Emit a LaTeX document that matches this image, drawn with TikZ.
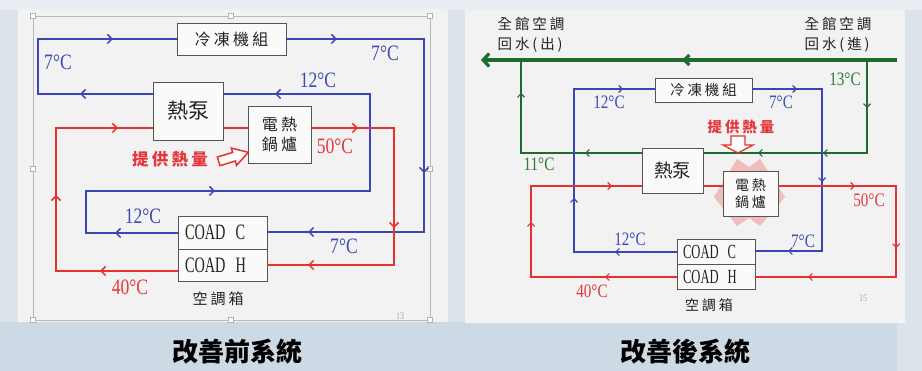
\documentclass[tikz,border=0pt]{standalone}
\usepackage{fontspec}
\usepackage{graphicx}
\setmainfont{Liberation Serif}
\newfontfamily\cjk{Noto Sans CJK TC}
\newfontfamily\cjksp[LetterSpace=20]{Noto Sans CJK TC}
\usetikzlibrary{arrows.meta,decorations.markings}
\definecolor{bl}{HTML}{3B46B2}
\definecolor{rd}{HTML}{E6312F}
\definecolor{gn}{HTML}{1F6A2F}
\definecolor{blt}{HTML}{3C4CB4}
\definecolor{rdt}{HTML}{E5373B}
\definecolor{gnt}{HTML}{2C7A3A}
\definecolor{bgc}{HTML}{DCE3EA}
\definecolor{bandc}{HTML}{CDD9E4}
\definecolor{slidec}{HTML}{F2F2F2}
\definecolor{boxc}{HTML}{555555}
\definecolor{pinkc}{HTML}{F1BCBC}
\definecolor{txt}{HTML}{222222}
\newcommand{\tmp}[2]{{\fontsize{#1}{#1}\selectfont\scalebox{0.8}[1]{#2°C}}}
\newcommand{\coad}[3]{{\fontsize{#1}{#1}\selectfont\scalebox{#2}[1]{COAD\hspace{0.7em}#3}}}
\newcommand{\cj}[2]{{\cjksp\fontsize{#1}{#1}\selectfont #2}}
\tikzset{
  am/.style={postaction={decorate,decoration={markings,mark=at position #1 with {\arrow{Straight Barb[length=4.5pt,width=9pt]}}}}},
  amr/.style={postaction={decorate,decoration={markings,mark=at position #1 with {\arrow{Straight Barb[length=3.5pt,width=7pt]}}}}},
  amg/.style={postaction={decorate,decoration={markings,mark=at position #1 with {\arrow{Straight Barb[length=5pt,width=10pt]}}}}},
  bll/.style={bl, line width=1.5pt},
  rdl/.style={rd, line width=1.5pt},
  blr/.style={bl, line width=1.1pt},
  rdr/.style={rd, line width=1.1pt},
  gnl/.style={gn, line width=1.1pt},
  box/.style={draw=boxc, fill=white!60!slidec, line width=0.8pt, inner sep=0pt, outer sep=0pt, text=txt},
  lbl/.style={inner sep=0pt, text=txt}
}
\begin{document}
\begin{tikzpicture}[x=1pt,y=-1pt]
\useasboundingbox (0,0) rectangle (922,371);
% background
\fill[bgc] (0,0) rectangle (922,371);
\fill[white!40!bgc] (0,0) rectangle (922,10);
\fill[bandc] (0,322) rectangle (897,371);
\fill[slidec] (18,9) rectangle (448,322);
\fill[slidec] (465,10) rectangle (905,320);
\fill[white!70!bandc] (465,320) rectangle (905,323);
% selection frame (left slide)
\draw[gray!55, line width=0.6pt] (33,16) rectangle (430,320);
\foreach \p in {(33,16),(231,16),(430,16),(33,169),(430,169),(33,320),(231,320),(430,320)}
  \draw[gray!60, fill=white, line width=0.5pt] \p ++(-2.5,-2.5) rectangle ++(5,5);

% ================= LEFT PANEL =================
\node[box, minimum width=109pt, minimum height=32pt] (chillerL) at (231.5,39) {\cj{16}{冷凍機組}};
\node[box, minimum width=70pt, minimum height=58pt] (hpL) at (188,111) {{\cjk\fontsize{21}{21}\selectfont 熱泵}};
\node[box, minimum width=63pt, minimum height=57pt, align=center] (boilL) at (279.5,134.5) {\cj{16}{電熱}\\[4pt]\cj{16}{鍋爐}};
\node[box, minimum width=89pt, minimum height=33pt, inner xsep=7pt, text width=75pt, align=left] (coadcL) at (222.5,232.5) {\coad{22}{0.65}{C}};
\node[box, minimum width=89pt, minimum height=32pt, inner xsep=7pt, text width=75pt, align=left] (coadhL) at (222.5,265) {\coad{22}{0.65}{H}};

\coordinate (a1) at (38,94); \coordinate (a2) at (38,39);
\draw[bll, am=73pt, am=245pt] (hpL.west |- a1) -- (a1) -- (a2) -- (chillerL.west);
\coordinate (b1) at (424,39); \coordinate (b2) at (424,232);
\draw[bll, am=51pt, am=272pt, am=447pt] (chillerL.east) -- (b1) -- (b2) -- (coadcL.east |- b2);
\coordinate (c1) at (86,233); \coordinate (c2) at (86,191); \coordinate (c3) at (370,191); \coordinate (c4) at (370,94);
\draw[bll, am=63pt, am=263pt, am=610pt] (coadcL.west |- c1) -- (c1) -- (c2) -- (c3) -- (c4) -- (hpL.east |- c4);
\coordinate (d1) at (394,128); \coordinate (d2) at (394,265);
\draw[rdl] (hpL.east |- d1) -- (boilL.west |- d1);
\draw[rdl, am=47pt, am=183pt, am=306pt] (boilL.east |- d1) -- (d1) -- (d2) -- (coadhL.east |- d2);
\coordinate (e1) at (56,271); \coordinate (e2) at (56,128);
\draw[rdl, am=78pt, am=198pt, am=327pt] (coadhL.west |- e1) -- (e1) -- (e2) -- (hpL.west |- e2);

\node[lbl, text=blt] (tl1) at (58,62) {\tmp{22}{7}};
\node[lbl, text=blt] (tl2) at (385,53) {\tmp{22}{7}};
\node[lbl, text=blt] (tl3) at (318,80) {\tmp{22}{12}};
\node[lbl, text=blt] (tl4) at (143,216) {\tmp{22}{12}};
\node[lbl, text=blt] (tl5) at (344,246) {\tmp{22}{7}};
\node[lbl, text=rdt] (tl6) at (335,146) {\tmp{22}{50}};
\node[lbl, text=rdt] (tl7) at (130,287) {\tmp{22}{40}};
\node[lbl, text=rdt] (heatL) at (170,159) {\cj{16.5}{\bfseries 提供熱量}};
\node[lbl] (ahuL) at (218,299) {\cj{15}{空調箱}};
\node[lbl, text=gray!70] (pg13) at (400,316) {\scalebox{0.8}[1]{\fontsize{10}{10}\selectfont 13}};
\draw[rd, fill=white, line width=1.5pt, line join=miter, shift={(233,157)}, rotate=17]
  (-15,-4.5) -- (1,-4.5) -- (1,-9) -- (16,0) -- (1,9) -- (1,4.5) -- (-15,4.5) -- cycle;

% ================= RIGHT PANEL =================
\fill[pinkc] (714,197) -- (737,159) -- (749,167) -- (760,159) -- (785,197) -- (760,226) -- (749,218) -- (737,226) -- cycle;
\node[box, minimum width=97pt, minimum height=24pt] (chillerR) at (703.5,90) {\cj{14.5}{冷凍機組}};
\node[box, minimum width=61pt, minimum height=45pt] (hpR) at (672.5,170.5) {{\cjk\fontsize{18.5}{18.5}\selectfont 熱泵}};
\node[box, minimum width=55pt, minimum height=45pt, align=center] (boilR) at (750.5,193.5) {\cj{14}{電熱}\\[3pt]\cj{14}{鍋爐}};
\node[box, minimum width=78pt, minimum height=25pt, inner xsep=6pt, text width=66pt, align=left] (coadcR) at (716,251.5) {\coad{20}{0.63}{C}};
\node[box, minimum width=78pt, minimum height=25pt, inner xsep=6pt, text width=66pt, align=left] (coadhR) at (716,276.5) {\coad{20}{0.63}{H}};

\coordinate (gin) at (897,60); \coordinate (gout) at (481,60);
\draw[gn, line width=3.2pt, -{Straight Barb[length=6pt,width=13pt]}, amg=215pt] (gin) -- (gout);
\coordinate (f0) at (867,60); \coordinate (f1) at (867,153);
\draw[gnl, amr=48pt, amr=137pt, amr=202pt] (f0) -- (f1) -- (hpR.east |- f1);
\coordinate (h1) at (521,153); \coordinate (h2) at (521,60);
\draw[gnl, amr=57pt, amr=181pt] (hpR.west |- h1) -- (h1) -- (h2);

\coordinate (i1) at (574,252); \coordinate (i2) at (574,89);
\draw[blr, amr=62pt, amr=157pt, amr=315pt] (coadcR.west |- i1) -- (i1) -- (i2) -- (chillerR.west |- i2);
\coordinate (j1) at (822,89); \coordinate (j2) at (822,251);
\draw[blr, amr=45pt, amr=163pt, amr=266pt] (chillerR.east |- j1) -- (j1) -- (j2) -- (coadcR.east |- j2);

\coordinate (k1) at (896,186); \coordinate (k2) at (896,277);
\draw[rdr] (hpR.east |- k1) -- (boilR.west |- k1);
\draw[rdr, amr=77pt, amr=180pt, amr=297pt] (boilR.east |- k1) -- (k1) -- (k2) -- (coadhR.east |- k2);
\coordinate (m1) at (531,277); \coordinate (m2) at (531,186);
\draw[rdr, amr=72pt, amr=201pt, amr=318pt] (coadhR.west |- m1) -- (m1) -- (m2) -- (hpR.west |- m2);

\node[lbl, align=left] (outL) at (531,35) {\cj{14.5}{全館空調}\\[6pt]\cj{14.5}{回水(出)}};
\node[lbl, align=left] (inR) at (838,35) {\cj{14.5}{全館空調}\\[6pt]\cj{14.5}{回水(進)}};
\node[lbl, text=gnt] (tr1) at (845,79) {\tmp{19}{13}};
\node[lbl, text=gnt] (tr2) at (539,164) {\tmp{19}{11}};
\node[lbl, text=blt] (tr3) at (609,102) {\tmp{19}{12}};
\node[lbl, text=blt] (tr4) at (781,102) {\tmp{19}{7}};
\node[lbl, text=blt] (tr5) at (630,239) {\tmp{19}{12}};
\node[lbl, text=blt] (tr6) at (803,241) {\tmp{19}{7}};
\node[lbl, text=rdt] (tr7) at (869,200) {\tmp{19}{50}};
\node[lbl, text=rdt] (tr8) at (592,291) {\tmp{19}{40}};
\node[lbl, text=rdt] (heatR) at (741,127) {\cj{14.5}{\bfseries 提供熱量}};
\node[lbl] (ahuR) at (709,305) {\cj{14}{空調箱}};
\node[lbl, text=gray!70] (pg15) at (863,298) {\scalebox{0.8}[1]{\fontsize{10}{10}\selectfont 15}};
\draw[rd, fill=white, line width=1.3pt, line join=miter]
  (731,136) -- (745,136) -- (745,145) -- (753,145) -- (738,153) -- (723,145) -- (731,145) -- cycle;

% ================= TITLES =================
\node[lbl, text=black] (titleL) at (237,352) {{\cjk\bfseries\fontsize{26}{26}\selectfont 改善前系統}};
\node[lbl, text=black] (titleR) at (685,352) {{\cjk\bfseries\fontsize{26}{26}\selectfont 改善後系統}};
\end{tikzpicture}
\end{document}
